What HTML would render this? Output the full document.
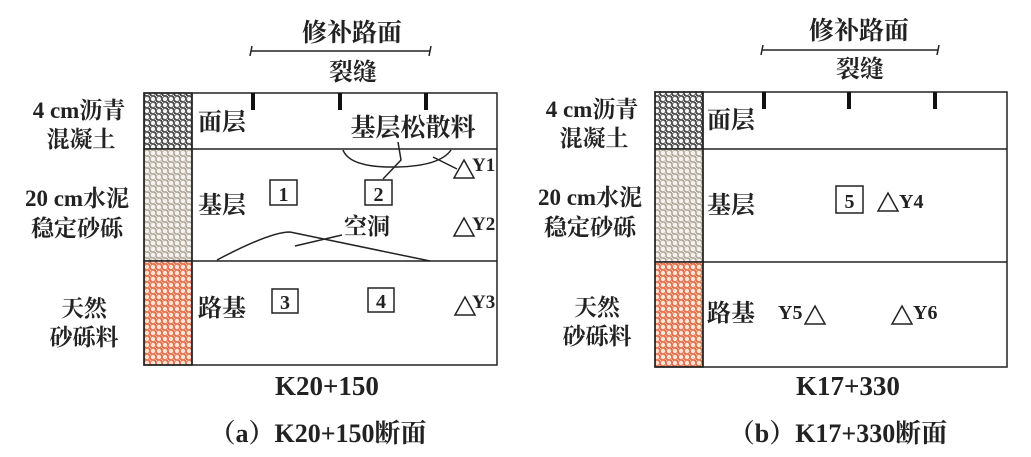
<!DOCTYPE html>
<html><head><meta charset="utf-8"><style>
html,body{margin:0;padding:0;background:#fff;}
svg{display:block;}
text{font-family:"Liberation Serif","Noto Serif CJK SC",serif;font-weight:bold;fill:#222;}
</style></head><body>
<svg width="1031" height="457" viewBox="0 0 1031 457" xmlns="http://www.w3.org/2000/svg">
<defs>
<pattern id="pa" width="6" height="6" patternUnits="userSpaceOnUse"><rect width="6" height="6" fill="#4a4a4a"/><circle cx="3" cy="3" r="2.2" fill="#f4f4f4"/><circle cx="0" cy="0" r="1.4" fill="#ddd"/><circle cx="6" cy="6" r="1.4" fill="#ddd"/></pattern>
<pattern id="pb" width="6" height="6" patternUnits="userSpaceOnUse"><rect width="6" height="6" fill="#b0a89c"/><circle cx="3" cy="3" r="2.3" fill="#f6f3ee"/><circle cx="0" cy="0" r="1.5" fill="#eee8e0"/><circle cx="6" cy="6" r="1.5" fill="#eee8e0"/></pattern>
<pattern id="pc" width="6" height="6" patternUnits="userSpaceOnUse"><rect width="6" height="6" fill="#e0704f"/><circle cx="3" cy="3" r="2.2" fill="#fbe2d2"/><circle cx="0" cy="0" r="1.3" fill="#f6c2a8"/><circle cx="6" cy="6" r="1.3" fill="#f6c2a8"/></pattern>
</defs>

<!-- Panel A -->
<g stroke="#222" fill="none" stroke-width="1.5">
<rect x="144" y="93" width="48" height="56" fill="url(#pa)"/>
<rect x="144" y="149" width="48" height="112" fill="url(#pb)"/>
<rect x="144" y="261" width="48" height="104" fill="url(#pc)"/>
<rect x="144" y="93" width="353" height="272"/>
<line x1="192" y1="93" x2="192" y2="365"/>
<line x1="192" y1="149" x2="497" y2="149"/>
<line x1="192" y1="261" x2="497" y2="261"/>
<line x1="251" y1="51" x2="430" y2="51"/>
<line x1="252" y1="46" x2="250" y2="56"/><line x1="431" y1="46" x2="429" y2="56"/>
<path d="M343 150 Q350 168 397 167 Q440 166 451 150"/>
<path d="M398 142 L401 160 L383 179"/>
<line x1="433" y1="157" x2="457" y2="169"/>
<path d="M217 260 Q270 232 290 232 L430 261"/>
<line x1="295" y1="246" x2="342" y2="235"/>
<rect x="270" y="180" width="27" height="25"/>
<rect x="365" y="180" width="27" height="25"/>
<rect x="272" y="289" width="26" height="24"/>
<rect x="368" y="288" width="26" height="24"/>
<path d="M464 160 L474 178 L454 178 Z"/>
<path d="M464 218 L474 236 L454 236 Z"/>
<path d="M465 297 L475 315 L455 315 Z"/>
</g>
<g fill="#111">
<rect x="251" y="93" width="4" height="17"/><rect x="338" y="93" width="4" height="17"/><rect x="424" y="93" width="4" height="17"/>
</g>
<text x="352" y="41" font-size="25" text-anchor="middle">修补路面</text>
<text x="353" y="80" font-size="24" text-anchor="middle">裂缝</text>
<text x="198" y="130" font-size="24">面层</text>
<text x="413" y="136" font-size="25" text-anchor="middle">基层松散料</text>
<text x="198" y="213" font-size="24">基层</text>
<text x="367" y="234" font-size="23" text-anchor="middle">空洞</text>
<text x="198" y="316" font-size="24">路基</text>
<text x="283.5" y="201" font-size="20" text-anchor="middle">1</text>
<text x="378.5" y="201" font-size="20" text-anchor="middle">2</text>
<text x="285" y="309" font-size="20" text-anchor="middle">3</text>
<text x="381" y="308" font-size="20" text-anchor="middle">4</text>
<text x="472" y="171" font-size="19">Y1</text>
<text x="472" y="230" font-size="19">Y2</text>
<text x="472" y="308" font-size="19">Y3</text>
<text x="79" y="118" font-size="23" text-anchor="middle">4 cm沥青</text>
<text x="81" y="147" font-size="23" text-anchor="middle">混凝土</text>
<text x="77" y="206" font-size="23" text-anchor="middle">20 cm水泥</text>
<text x="77" y="236" font-size="23" text-anchor="middle">稳定砂砾</text>
<text x="84" y="316" font-size="23" text-anchor="middle">天然</text>
<text x="84" y="345" font-size="23" text-anchor="middle">砂砾料</text>
<text x="327" y="395" font-size="27" text-anchor="middle">K20+150</text>
<text x="318" y="442" font-size="26" text-anchor="middle">（a）K20+150断面</text>

<!-- Panel B -->
<g stroke="#222" fill="none" stroke-width="1.5">
<rect x="655" y="92" width="48" height="57" fill="url(#pa)"/>
<rect x="655" y="149" width="48" height="113" fill="url(#pb)"/>
<rect x="655" y="262" width="48" height="105" fill="url(#pc)"/>
<rect x="655" y="92" width="352" height="275"/>
<line x1="703" y1="92" x2="703" y2="367"/>
<line x1="703" y1="149" x2="1007" y2="149"/>
<line x1="703" y1="262" x2="1007" y2="262"/>
<line x1="762" y1="50" x2="938" y2="50"/>
<line x1="763" y1="45" x2="761" y2="55"/><line x1="939" y1="45" x2="937" y2="55"/>
<rect x="836" y="186" width="27" height="27"/>
<path d="M888 193 L898 211 L878 211 Z"/>
<path d="M815 306 L825 324 L805 324 Z"/>
<path d="M902 306 L912 324 L892 324 Z"/>
</g>
<g fill="#111">
<rect x="762" y="92" width="4" height="17"/><rect x="847" y="92" width="4" height="17"/><rect x="933" y="92" width="4" height="17"/>
</g>
<text x="859" y="39" font-size="25" text-anchor="middle">修补路面</text>
<text x="860" y="77" font-size="24" text-anchor="middle">裂缝</text>
<text x="707" y="128" font-size="24">面层</text>
<text x="707" y="213" font-size="24">基层</text>
<text x="707" y="321" font-size="24">路基</text>
<text x="849.5" y="208" font-size="20" text-anchor="middle">5</text>
<text x="899" y="208" font-size="20">Y4</text>
<text x="778" y="319" font-size="20">Y5</text>
<text x="913" y="319" font-size="20">Y6</text>
<text x="592" y="117" font-size="23" text-anchor="middle">4 cm沥青</text>
<text x="594" y="146" font-size="23" text-anchor="middle">混凝土</text>
<text x="590" y="205" font-size="23" text-anchor="middle">20 cm水泥</text>
<text x="590" y="235" font-size="23" text-anchor="middle">稳定砂砾</text>
<text x="597" y="315" font-size="23" text-anchor="middle">天然</text>
<text x="597" y="344" font-size="23" text-anchor="middle">砂砾料</text>
<text x="848" y="395" font-size="27" text-anchor="middle">K17+330</text>
<text x="838" y="442" font-size="26" text-anchor="middle">（b）K17+330断面</text>
</svg>
</body></html>
